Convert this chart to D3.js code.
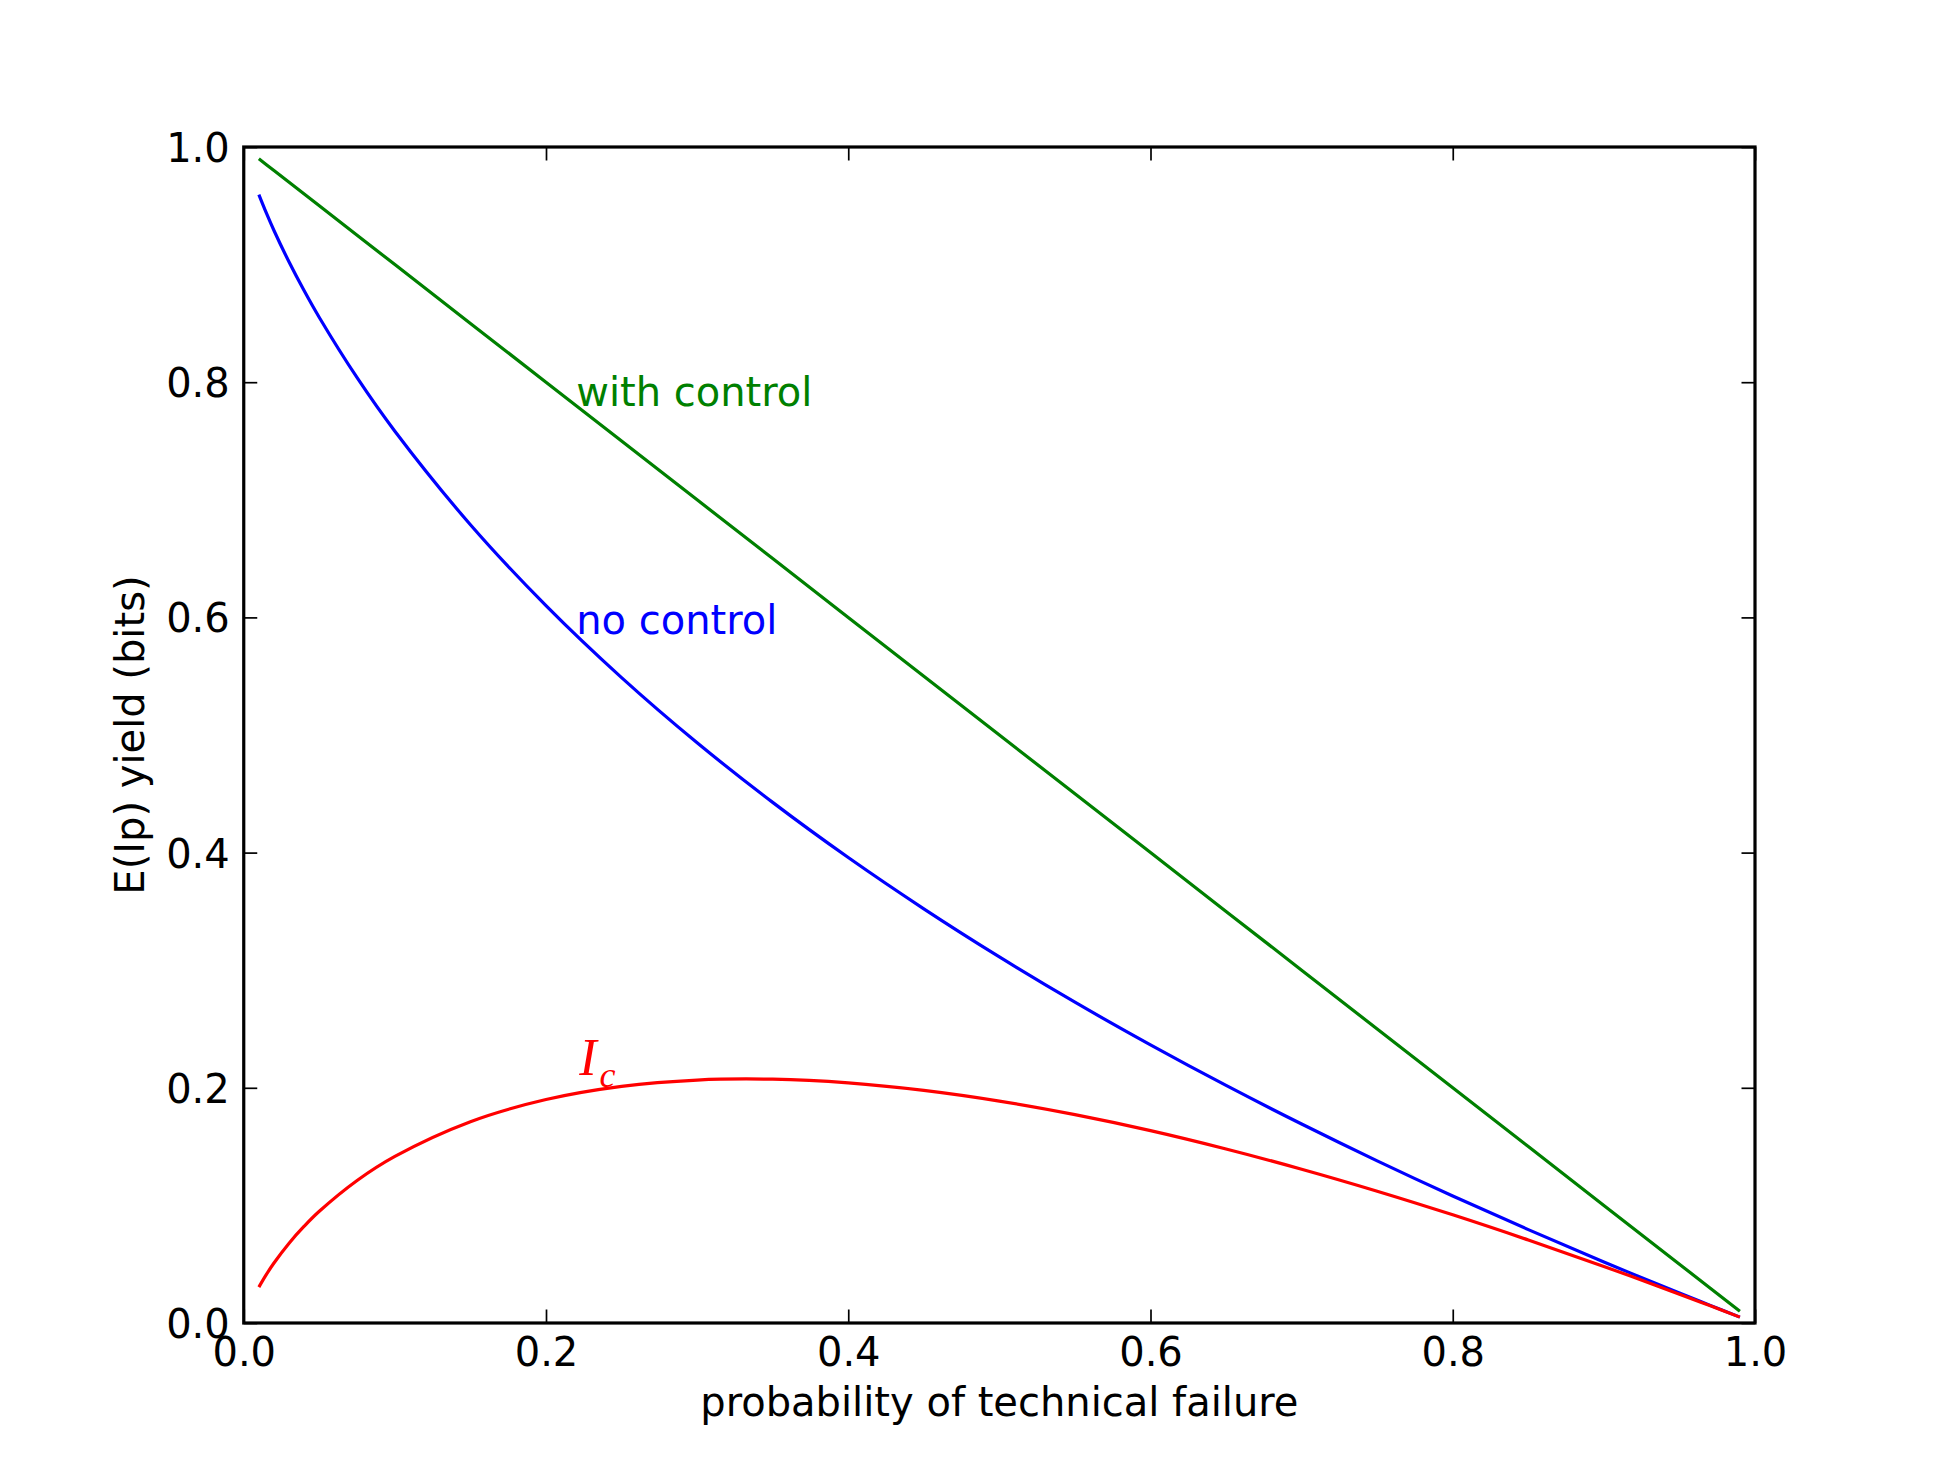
<!DOCTYPE html>
<html>
<head>
<meta charset="utf-8">
<script src="https://cdn.jsdelivr.net/npm/d3@7"></script>
<style>
  html, body { margin: 0; padding: 0; background: #fff; }
  svg { display: block; }
  text { font-family: "DejaVu Sans", sans-serif; }
</style>
</head>
<body>
<svg id="chart" width="1950" height="1470"></svg>
<script>
// ---- data ----
const failureProb = [0.01,0.015,0.02,0.03,0.04,0.05,0.075,0.1,0.15,0.2,0.25,0.3,0.35,0.4,0.45,0.5,0.55,0.6,0.65,0.7,0.75,0.8,0.85,0.9,0.95,0.97,0.99];
const withControl = [0.99,0.985,0.98,0.97,0.96,0.95,0.925,0.9,0.85,0.8,0.75,0.7,0.65,0.6,0.55,0.5,0.45,0.4,0.35,0.3,0.25,0.2,0.15,0.1,0.05,0.03,0.01];
const noControl   = [0.9595,0.9437,0.9290,0.9022,0.8777,0.8550,0.8038,0.7583,0.6788,0.6100,0.5488,0.4934,0.4427,0.3958,0.3522,0.3113,0.2728,0.2365,0.2020,0.1692,0.1379,0.1080,0.0794,0.0519,0.0255,0.0152,0.0050];
const icValues    = [0.0305,0.0413,0.0510,0.0679,0.0823,0.0950,0.1212,0.1417,0.1712,0.1900,0.2012,0.2066,0.2073,0.2042,0.1978,0.1887,0.1772,0.1636,0.1480,0.1308,0.1121,0.0920,0.0706,0.0481,0.0245,0.0148,0.0050];
const xTicks = [0.0,0.2,0.4,0.6,0.8,1.0];
const yTicks = [0.0,0.2,0.4,0.6,0.8,1.0];
const xLabel = "probability of technical failure";
const yLabel = "E(Ip) yield (bits)";
const annotations = [
  {text: "with control", x: 0.22, y: 0.78, color: "#008000"},
  {text: "no control",   x: 0.22, y: 0.586, color: "#0000ff"}
];

// ---- layout ----
const W = 1950, H = 1470;
const L = 243.75, R = 1755, T = 147, B = 1323;
const fs = 40;

const svg = d3.select("#chart");
const x = d3.scaleLinear().domain([0, 1]).range([L, R]);
const y = d3.scaleLinear().domain([0, 1]).range([B, T]);

// lines
const mk = (vals, curve) => d3.line()
  .x((d, i) => x(failureProb[i]))
  .y(d => y(d))
  .curve(curve)(vals);

const series = [
  {vals: withControl, color: "#008000", curve: d3.curveLinear},
  {vals: noControl, color: "#0000ff", curve: d3.curveCatmullRom.alpha(0.5)},
  {vals: icValues, color: "#ff0000", curve: d3.curveCatmullRom.alpha(0.5)}
];
svg.append("g").selectAll("path").data(series).join("path")
  .attr("d", s => mk(s.vals, s.curve))
  .attr("fill", "none")
  .attr("stroke", s => s.color)
  .attr("stroke-width", 3.2)
  .attr("stroke-linejoin", "round");

// axes (ticks inward on all sides)
const tickLen = 13.5;
function styleAxis(g, showLabels) {
  g.select(".domain").remove();
  g.selectAll(".tick line").attr("stroke", "#000").attr("stroke-width", 1.7);
  g.selectAll(".tick text")
    .attr("fill", showLabels ? "#000" : "none")
    .style("font-family", '"DejaVu Sans", sans-serif')
    .style("font-size", fs + "px");
}
svg.append("g").attr("transform", `translate(0,${B})`)
  .call(d3.axisBottom(x).tickValues(xTicks).tickFormat(d3.format(".1f")).tickSize(-tickLen).tickPadding(15))
  .call(g => styleAxis(g, true));
svg.append("g").attr("transform", `translate(0,${T})`)
  .call(d3.axisTop(x).tickValues(xTicks).tickFormat("").tickSize(-tickLen))
  .call(g => styleAxis(g, false));
svg.append("g").attr("transform", `translate(${L},0)`)
  .call(d3.axisLeft(y).tickValues(yTicks).tickFormat(d3.format(".1f")).tickSize(-tickLen).tickPadding(14))
  .call(g => styleAxis(g, true))
  .call(g => g.selectAll(".tick text").attr("dy", "0.36em"));
svg.append("g").attr("transform", `translate(${R},0)`)
  .call(d3.axisRight(y).tickValues(yTicks).tickFormat("").tickSize(-tickLen))
  .call(g => styleAxis(g, false));

// frame
svg.append("rect")
  .attr("x", L).attr("y", T).attr("width", R - L).attr("height", B - T)
  .attr("fill", "none").attr("stroke", "#000").attr("stroke-width", 3.2);

// axis labels
svg.append("text")
  .attr("x", (L + R) / 2).attr("y", 1416)
  .attr("text-anchor", "middle")
  .style("font-size", fs + "px")
  .text(xLabel);
svg.append("text")
  .attr("transform", `translate(144,${(T + B) / 2}) rotate(-90)`)
  .attr("text-anchor", "middle")
  .style("font-size", fs + "px")
  .text(yLabel);

// annotations
svg.append("g").selectAll("text").data(annotations).join("text")
  .attr("x", d => x(d.x)).attr("y", d => y(d.y))
  .attr("fill", d => d.color)
  .style("font-size", fs + "px")
  .text(d => d.text);

// I_c label
const ic = svg.append("text")
  .attr("x", x(0.22) + 3).attr("y", y(0.211))
  .attr("fill", "#ff0000")
  .style("font-family", '"Liberation Serif", "DejaVu Serif", serif')
  .style("font-style", "italic")
  .style("font-size", "52px");
ic.append("tspan").text("I");
ic.append("tspan").attr("dx", 3).attr("dy", 12).style("font-size", "36px").text("c");
</script>
</body>
</html>
